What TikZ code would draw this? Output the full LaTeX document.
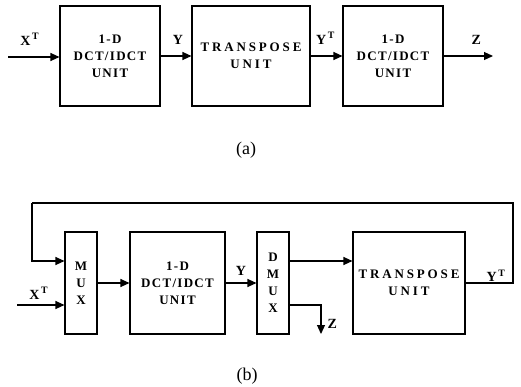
\documentclass[tikz,border=0pt]{standalone}
\usepackage{fontspec}
\setmainfont{Liberation Serif}
\usepackage{tikz}
\usetikzlibrary{arrows.meta, positioning, calc}
\tikzset{
  unitbox/.style={rectangle, draw, line width=1.1pt, minimum width=#1,
              minimum height=100pt, inner sep=0pt, align=center,
              font=\fontsize{13}{17}\bfseries\addfontfeatures{LetterSpace=10}},
  unitbox/.default=100pt,
  tpbox/.style={unitbox=#1, font=\fontsize{13}{17}\bfseries\addfontfeatures{LetterSpace=22}},
  tpbox/.default=118pt,
  muxbox/.style={rectangle, draw, line width=1.1pt, minimum width=32pt,
              minimum height=102pt, inner sep=0pt, align=center,
              font=\fontsize{13}{17}\bfseries},
  sig/.style={font=\fontsize{14}{16}\bfseries},
  caption/.style={font=\fontsize{18}{20}\selectfont},
  arrow/.style={-{Triangle[length=9pt,width=8pt]}, line width=1.1pt},
  wire/.style={line width=1.1pt},
}
\newcommand{\tr}[1]{#1\textsuperscript{\,T}}

\begin{document}
\begin{tikzpicture}[x=1pt, y=-1pt]
  \useasboundingbox (0,0) rectangle (521,386);

  % (a) three units in a row
  \node[unitbox] (dctA) at (110,56) {1-D\\DCT/IDCT\\UNIT};
  \node[tpbox] (tpA) at (251,56) {TRANSPOSE\\UNIT};
  \node[unitbox] (dctB) at (393,56) {1-D\\DCT/IDCT\\UNIT};
  \coordinate (xinA) at (8,57);
  \coordinate (zoutA) at (493,56);

  \draw[arrow] (xinA) -- node[sig, above=8pt, xshift=-4pt] {\tr{X}} (xinA -| dctA.west);
  \draw[arrow] (dctA) -- node[sig, above=8pt, xshift=2pt] {Y} (tpA);
  \draw[arrow] (tpA) -- node[sig, above=8pt, xshift=-1pt] {\tr{Y}} (dctB);
  \draw[arrow] (dctB) -- node[sig, above=8pt, xshift=8pt] {Z} (zoutA);

  \node[caption] (capA) at (246,150) {(a)};

  % (b) one unit, used twice
  \node[muxbox] (mux) at (81,283) {M\\U\\X};
  \node[unitbox=95pt, minimum height=102pt] (dct) at (177.5,283) {1-D\\DCT/IDCT\\UNIT};
  \node[muxbox] (dmux) at (273,283) {D\\M\\U\\X};
  \node[tpbox=112pt, minimum height=102pt] (tp) at (409,283) {TRANSPOSE\\UNIT};
  \coordinate (xin) at (17,305);
  \coordinate (fbR) at (513,203);
  \coordinate (fbL) at (32,203);
  \coordinate (zout) at (321,334);

  \draw[arrow] (xin) -- node[sig, above=2pt, xshift=-2pt] {\tr{X}} (xin -| mux.west);
  \draw[arrow] (mux) -- (dct);
  \draw[arrow] (dct) -- node[sig, above=4pt] {Y} (dmux);
  \draw[arrow] ([yshift=22pt]dmux.east) -- ([yshift=22pt]dmux.east -| tp.west);
  \draw[arrow] ([yshift=-22pt]dmux.east) -| (zout);
  \node[sig, right=3pt of zout, yshift=10pt] (zlbl) {Z};
  \draw[wire] (tp.east) -| (fbR) -- (fbL);
  \draw[arrow] (fbL) |- ([yshift=22pt]mux.west);
  \node[sig, left=4pt of tp.east -| fbR, yshift=7pt] (ytlbl) {\tr{Y}};

  \node[caption] (capB) at (247,376) {(b)};
\end{tikzpicture}
\end{document}
